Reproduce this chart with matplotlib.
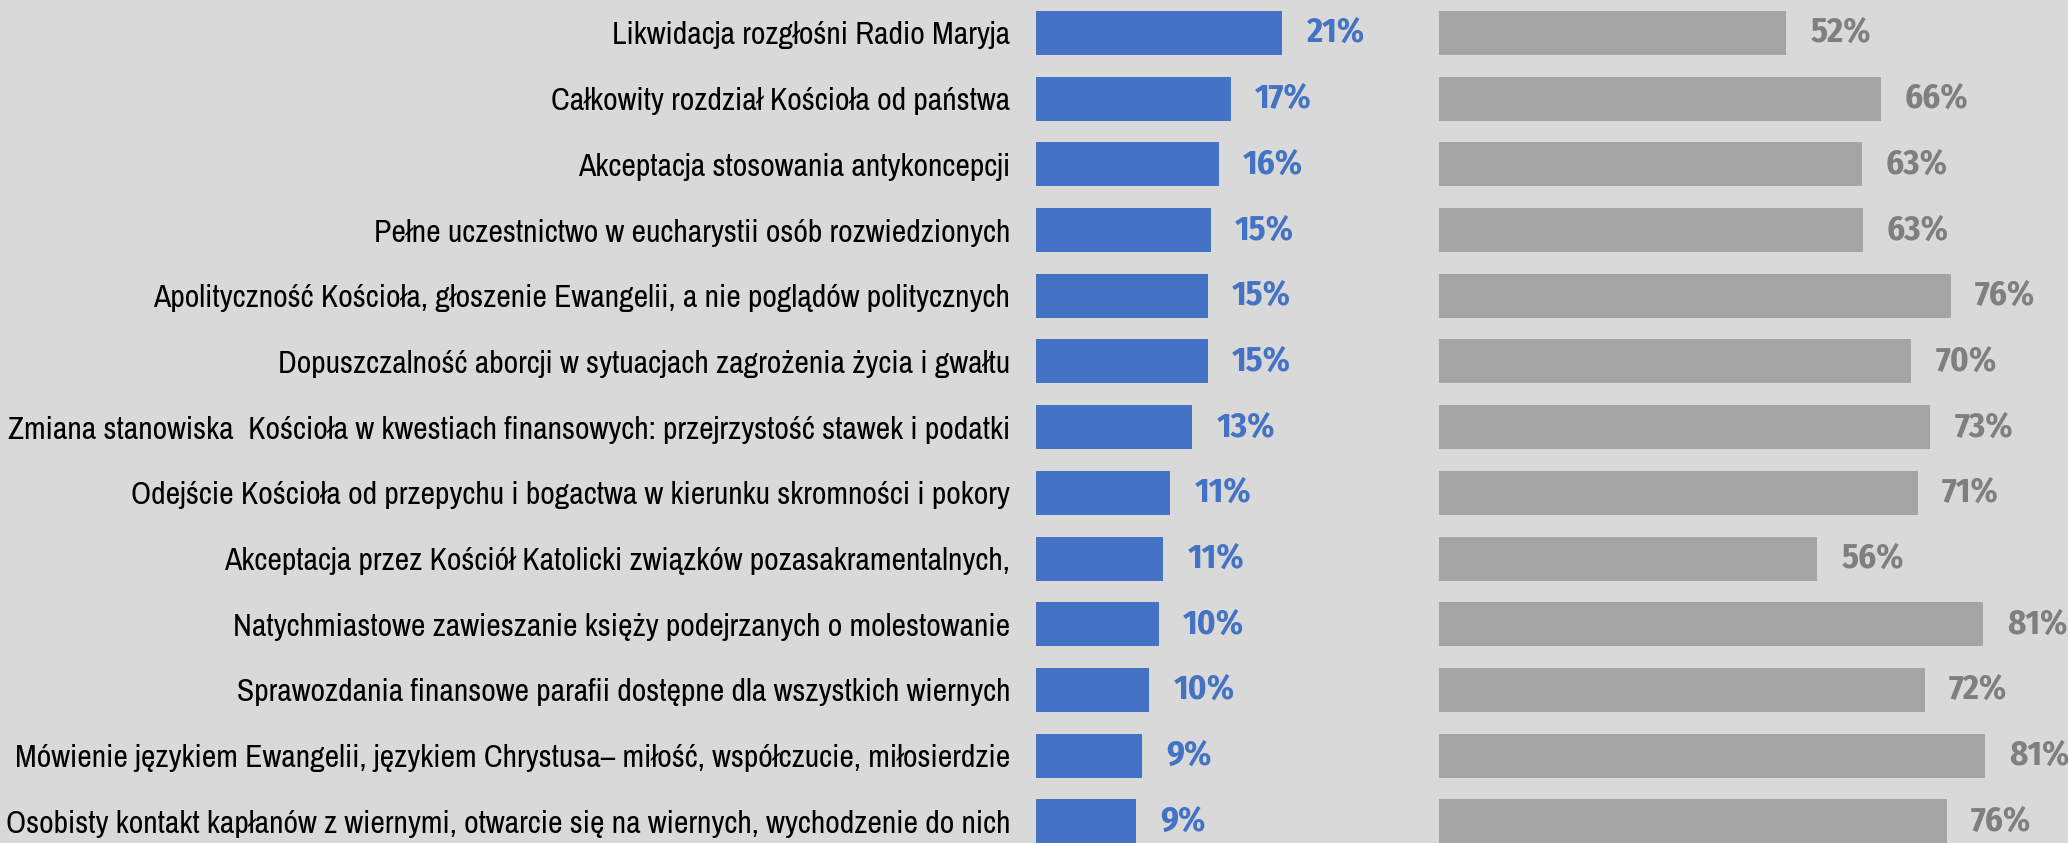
import matplotlib.pyplot as plt
import numpy as np

plt.rcParams['font.family'] = ['Archivo Narrow', 'Liberation Sans', 'DejaVu Sans']

# Dane
categories = [
    'Likwidacja rozgłośni Radio Maryja',
    'Całkowity rozdział Kościoła od państwa',
    'Akceptacja stosowania antykoncepcji',
    'Pełne uczestnictwo w eucharystii osób rozwiedzionych',
    'Apolityczność Kościoła, głoszenie Ewangelii, a nie poglądów politycznych',
    'Dopuszczalność aborcji w sytuacjach zagrożenia życia i gwałtu',
    'Zmiana stanowiska  Kościoła w kwestiach finansowych: przejrzystość stawek i podatki',
    'Odejście Kościoła od przepychu i bogactwa w kierunku skromności i pokory',
    'Akceptacja przez Kościół Katolicki związków pozasakramentalnych,',
    'Natychmiastowe zawieszanie księży podejrzanych o molestowanie',
    'Sprawozdania finansowe parafii dostępne dla wszystkich wiernych',
    'Mówienie językiem Ewangelii, językiem Chrystusa– miłość, współczucie, miłosierdzie',
    'Osobisty kontakt kapłanów z wiernymi, otwarcie się na wiernych, wychodzenie do nich',
]
blue_values = [21.1, 16.7, 15.7, 15.0, 14.7, 14.7, 13.4, 11.5, 10.9, 10.5, 9.7, 9.1, 8.6]
blue_labels = ['21%', '17%', '16%', '15%', '15%', '15%', '13%', '11%', '11%', '10%', '10%', '9%', '9%']
gray_values = [51.7, 65.7, 62.9, 63.1, 76.2, 70.3, 73.1, 71.3, 56.3, 80.9, 72.3, 81.2, 75.6]
gray_labels = ['52%', '66%', '63%', '63%', '76%', '70%', '73%', '71%', '56%', '81%', '72%', '81%', '76%']

BG = '#D9D9D9'
W, H = 2068, 843
VALUE_FONT = ['Fira Sans Condensed', 'Liberation Sans', 'DejaVu Sans']

fig = plt.figure(figsize=(W / 100, H / 100), dpi=100)
fig.patch.set_facecolor(BG)

ax1 = fig.add_axes([1036.3 / W, 0, (1420 - 1036.3) / W, 1])
ax2 = fig.add_axes([1439 / W, 0, (W - 1439) / W, 1])

y = np.arange(len(categories))

ax1.barh(y, blue_values, height=0.67, color='#4472C4')
ax2.barh(y, gray_values, height=0.67, color='#A5A5A5')

ax1.set_xlim(0, (1420 - 1036.3) / 11.65)
ax2.set_xlim(0, (W - 1439) / 6.72)

for ax, vals, labs, col in [(ax1, blue_values, blue_labels, '#4472C4'),
                            (ax2, gray_values, gray_labels, '#7F7F7F')]:
    ax.set_facecolor('none')
    ax.set_ylim(12.33, -0.502)
    for s in ax.spines.values():
        s.set_visible(False)
    ax.set_xticks([])
    for v, yi, lab in zip(vals, y, labs):
        ax.annotate(lab, (v, yi), xytext=(17.3, 0), textcoords='offset points',
                    ha='left', va='center', fontsize=25, fontweight='bold',
                    color=col, family=VALUE_FONT)

ax1.set_yticks(y, categories, fontsize=22.85, color='black')
ax1.tick_params(axis='y', length=0, pad=18.7)
ax2.set_yticks([])

fig.savefig('out.png', dpi=100, facecolor=BG)
